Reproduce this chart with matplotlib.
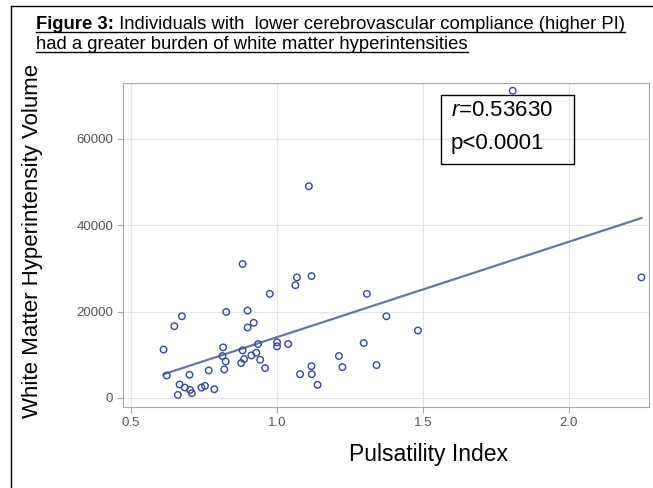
import numpy as np
import matplotlib
matplotlib.use('Agg')
import matplotlib.pyplot as plt
from matplotlib.lines import Line2D
from matplotlib.patches import Rectangle

# values
pulsatility = [0.882, 1.068, 1.063, 1.118, 0.975, 1.308, 1.375, 0.674, 0.648, 0.826,
               0.899, 0.920, 0.899, 0.611, 0.815, 0.813, 0.824, 0.819, 0.882, 0.887,
               0.877, 0.912, 0.929, 0.935, 0.942, 0.959, 1.000, 1.000, 1.038, 1.079,
               1.118, 1.119, 1.139, 1.212, 1.224, 1.297, 1.341, 0.622, 0.700, 0.766,
               0.666, 0.684, 0.702, 0.708, 0.660, 0.741, 0.753, 0.785, 1.808, 2.249,
               1.483, 1.109]
wmh_volume = [31000, 27900, 26100, 28200, 24100, 24100, 18900, 18900, 16600, 19900,
              20200, 17400, 16300, 11200, 11700, 9700, 8450, 6600, 11000, 9000,
              8070, 9840, 10460, 12480, 8840, 6900, 12870, 11940, 12480, 5500,
              7360, 5500, 3020, 9700, 7130, 12710, 7600, 5190, 5350, 6360,
              3100, 2400, 1860, 1090, 700, 2400, 2790, 2020, 71100, 27900,
              15600, 49000]
x_ticks = [0.5, 1.0, 1.5, 2.0]
y_ticks = [0, 20000, 40000, 60000]
stat_r = '0.53630'
stat_p = 'p<0.0001'

plt.rcParams['font.family'] = ['Liberation Sans', 'DejaVu Sans']
plt.rcParams['mathtext.fontset'] = 'custom'
plt.rcParams['mathtext.it'] = 'Liberation Sans:italic'
plt.rcParams['mathtext.rm'] = 'Liberation Sans'

W, H = 653, 488
fig = plt.figure(figsize=(W / 100, H / 100), dpi=100)
rend = fig.canvas.get_renderer()

# outer frame of the poster panel (only left and top edges visible)
fig.add_artist(Line2D([11 / W, 11 / W], [0, 1 - 6 / H], transform=fig.transFigure, color='black', lw=1))
fig.add_artist(Line2D([11 / W, 1], [1 - 6 / H, 1 - 6 / H], transform=fig.transFigure, color='black', lw=1))

# title, underlined
x0 = 36
base1, base2 = 29, 49
tsize = 13.3
t1 = fig.text(x0 / W, 1 - base1 / H, 'Figure 3:', weight='bold', fontsize=tsize, va='baseline')
bb1 = t1.get_window_extent(rend)
t2 = fig.text(bb1.x1 / W, 1 - base1 / H, ' Individuals with  lower cerebrovascular compliance (higher PI)',
              fontsize=tsize, va='baseline')
bb2 = t2.get_window_extent(rend)
t3 = fig.text(x0 / W, 1 - base2 / H, 'had a greater burden of white matter hyperintensities',
              fontsize=tsize, va='baseline')
bb3 = t3.get_window_extent(rend)
for base, right in [(base1, bb2.x1), (base2, bb3.x1)]:
    yy = 1 - (base + 3) / H
    fig.add_artist(Line2D([x0 / W, right / W], [yy, yy], transform=fig.transFigure, color='black', lw=1))

# plot area
ax = fig.add_axes([123 / W, 1 - 407 / H, (649 - 123) / W, (407 - 83) / H])
ax.scatter(pulsatility, wmh_volume, s=22, facecolors='none', edgecolors='#34489a', linewidths=1.0, zorder=3)

px = np.array(pulsatility)
py = np.array(wmh_volume)
slope, icpt = np.polyfit(px, py, 1)
xf = np.array([px.min(), px.max()])
ax.plot(xf, slope * xf + icpt, color='#6477a0', lw=1.6, zorder=2)

ax.set_xlim(0.472, 2.275)
ax.set_ylim(-2100, 72900)
ax.set_xticks(x_ticks)
ax.set_xticklabels(['%.1f' % v for v in x_ticks])
ax.set_yticks(y_ticks)
ax.set_yticklabels([str(v) for v in y_ticks])
ax.grid(True, color='#e4e4e4', lw=0.8)
ax.set_axisbelow(True)
for s in ax.spines.values():
    s.set_color('#a8a8a8')
ax.tick_params(direction='out', length=4, color='#a8a8a8', labelsize=9.5, labelcolor='#555555', pad=3)

# correlation box
fig.add_artist(Rectangle((441 / W, 1 - 164 / H), (574 - 441) / W, (164 - 95) / H,
                         transform=fig.transFigure, fill=False, edgecolor='black', lw=1, zorder=5))
fig.text(451 / W, 1 - 110 / H, '$r$=' + stat_r, fontsize=16, va='center', ha='left')
fig.text(451 / W, 1 - 143 / H, stat_p, fontsize=16, va='center', ha='left')

# axis labels
fig.text(33 / W, 1 - 241 / H, 'White Matter Hyperintensity Volume', rotation=90,
         fontsize=16, ha='center', va='center')
fig.text(428 / W, 1 - 455 / H, 'Pulsatility Index', fontsize=16.5, ha='center', va='center')

fig.savefig('out.png', dpi=100)
